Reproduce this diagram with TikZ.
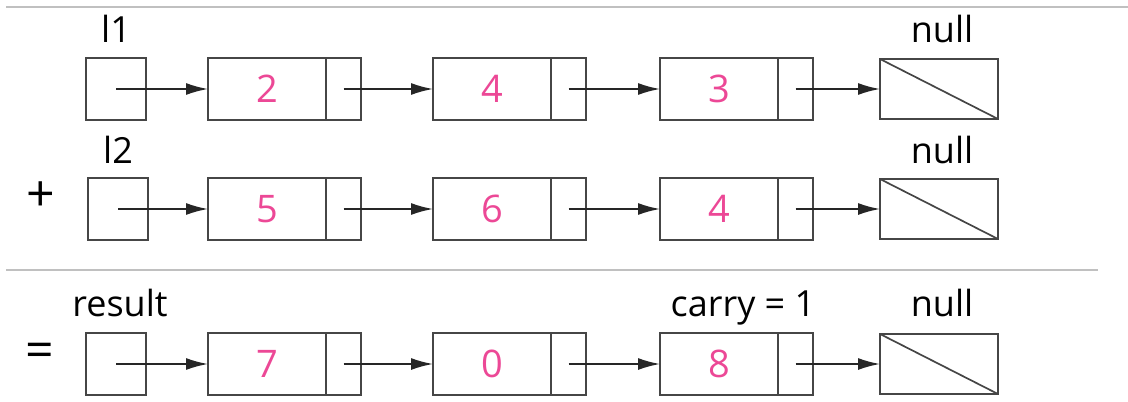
\documentclass[tikz,border=0pt]{standalone}
\usepackage{fontspec}
\setmainfont{Open Sans}
\usetikzlibrary{arrows.meta, positioning}
\definecolor{boxgray}{RGB}{70,70,70}
\definecolor{rulegray}{RGB}{192,192,192}
\definecolor{valpink}{RGB}{236,72,150}

\tikzset{
  cell/.style={draw=boxgray, line width=1.35pt, inner sep=0pt, outer sep=0pt, minimum height=31pt},
  headbox/.style={cell, minimum width=30pt},
  databox/.style={cell, minimum width=59pt, text=valpink, font=\fontsize{19}{21}\selectfont},
  ptrbox/.style={cell, minimum width=17.5pt},
  nullbox/.style={cell, minimum width=59pt, minimum height=30pt},
  link/.style={-{Latex[length=11pt, width=6pt]}, line width=0.85pt, black!85},
  lbl/.style={anchor=base, inner sep=0pt, font=\fontsize{18}{20}\selectfont},
  opsign/.style={inner sep=0pt, font=\fontsize{25}{27}\selectfont},
}

\begin{document}
\begin{tikzpicture}[x=0.5pt, y=-0.5pt]
  \useasboundingbox (0,0) rectangle (1128,401);
  % separators
  \draw[rulegray, line width=1pt] (6,7) -- (1128,7);
  \draw[rulegray, line width=1pt] (6,270) -- (1098,270);
  % the three lists
  \foreach \row/\y/\hx/\va/\vb/\vc in {1/89/116/2/4/3, 2/209/118/5/6/4, 3/364/116/7/0/8} {
    \node[headbox] (h\row) at (\hx,\y) {};
    \foreach \i/\x/\v in {1/267/\va, 2/492/\vb, 3/719/\vc} {
      \node[databox] (d\row\i) at (\x,\y) {\v};
      \node[ptrbox, right=0pt of d\row\i] (p\row\i) {};
    }
    \node[nullbox] (n\row) at (939,\y) {};
    \draw[boxgray, line width=0.85pt] (n\row.north west) -- (n\row.south east);
    % pointers
    \draw[link] (h\row.center) -- (d\row1.west);
    \draw[link] (p\row1.center) -- (d\row2.west);
    \draw[link] (p\row2.center) -- (d\row3.west);
    \draw[link] (p\row3.center) -- (n\row.west);
  }
  % labels
  \node[lbl] (l1) at (116,43) {l1};
  \node[lbl] (null1) at (942,43) {null};
  \node[lbl] (l2) at (118,163) {l2};
  \node[lbl] (null2) at (942,163) {null};
  \node[lbl] (res) at (120,316) {result};
  \node[lbl] (carry) at (743,316) {carry = 1};
  \node[lbl] (null3) at (942,316) {null};
  \node[opsign] (plus) at (41,197) {+};
  \node[opsign] (eq) at (40,355) {=};
\end{tikzpicture}
\end{document}
